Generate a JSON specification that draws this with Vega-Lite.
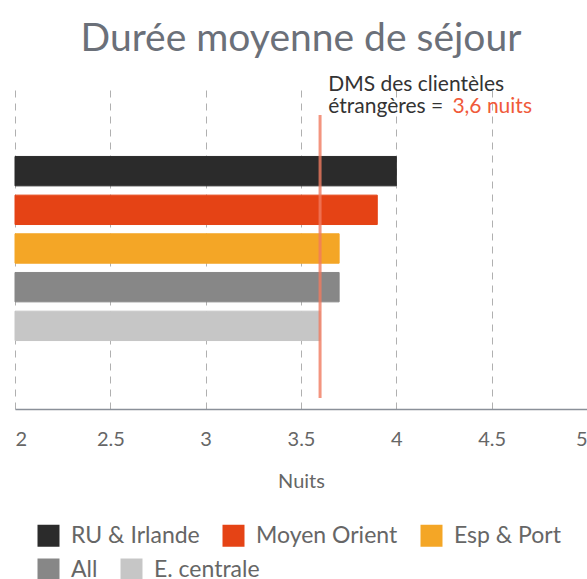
{
  "$schema": "https://vega.github.io/schema/vega-lite/v6.json",
  "width": 572,
  "height": 321,
  "autosize": {"type": "none"},
  "padding": {"left": 15, "top": 88, "right": 0, "bottom": 170},
  "title": {"text": "Durée moyenne de séjour", "fontSize": 39, "font": "Lato", "fontWeight": "normal", "color": "#6b7079", "anchor": "middle", "frame": "group", "offset": 15},
  "config": {"view": {"stroke": null}, "font": "Lato"},
  "layer": [
    {
      "data": {"values": [
        {"region": "RU & Irlande", "dms": 4.0},
        {"region": "Moyen Orient", "dms": 3.9},
        {"region": "Esp & Port", "dms": 3.7},
        {"region": "All", "dms": 3.7},
        {"region": "E. centrale", "dms": 3.6}
      ]},
      "mark": {"type": "bar"},
      "encoding": {
        "y": {"field": "region", "type": "nominal", "sort": null, "axis": null,
          "scale": {"domain": ["_haut", "RU & Irlande", "Moyen Orient", "Esp & Port", "All", "E. centrale", "_bas"], "paddingInner": 0.24, "paddingOuter": 0.77}},
        "x": {"field": "dms", "type": "quantitative", "scale": {"domain": [2, 5], "zero": false},
          "axis": {"values": [2, 2.5, 3, 3.5, 4, 4.5, 5], "format": "~g", "title": "Nuits", "titleFontSize": 20, "titleFontWeight": "normal", "titleColor": "#666", "titlePadding": 22,
            "labelFontSize": 20, "labelColor": "#666", "labelPadding": 20, "labelFlush": true, "ticks": false,
            "grid": true, "gridDash": [7, 6], "gridColor": "#b0b0b0", "gridWidth": 1,
            "domainColor": "#8a9099", "domainWidth": 1.5}},
        "x2": {"datum": 2},
        "fill": {"field": "region", "type": "nominal",
          "scale": {"domain": ["RU & Irlande", "Moyen Orient", "Esp & Port", "All", "E. centrale"], "range": ["#2b2b2b", "#e54315", "#f4a626", "#878787", "#c6c6c6"]},
          "legend": {"title": null, "values": ["RU & Irlande", "Moyen Orient", "Esp & Port"], "orient": "none", "legendX": 22, "legendY": 436, "direction": "horizontal", "columnPadding": 22,
            "symbolType": "square", "symbolSize": 484, "symbolStrokeWidth": 0, "labelFontSize": 23, "labelColor": "#666", "labelOffset": 11, "labelLimit": 300}},
        "stroke": {"field": "region", "type": "nominal",
          "scale": {"domain": ["All", "E. centrale", "RU & Irlande", "Moyen Orient", "Esp & Port"], "range": ["#878787", "#c6c6c6", "#2b2b2b", "#e54315", "#f4a626"]},
          "legend": {"title": null, "values": ["All", "E. centrale"], "orient": "none", "legendX": 22, "legendY": 470, "direction": "horizontal", "columnPadding": 6,
            "symbolType": "square", "symbolSize": 121, "symbolStrokeWidth": 11, "labelFontSize": 23, "labelColor": "#666", "labelOffset": 11, "labelLimit": 300}}
      }
    },
    {
      "data": {"values": [{"x": 3.6, "y0": 0.034, "y1": 0.916}]},
      "mark": {"type": "rule", "color": "#f07b5f", "opacity": 0.8, "strokeWidth": 3},
      "encoding": {
        "x": {"field": "x", "type": "quantitative"},
        "y": {"field": "y0", "type": "quantitative", "scale": {"domain": [0, 1]}, "axis": null},
        "y2": {"field": "y1"}
      }
    },
    {
      "data": {"values": [
        {"x": 3.643, "y": 0.992, "t": "DMS des clientèles", "c": "dark"},
        {"x": 3.643, "y": 0.922, "t": "étrangères =", "c": "dark"},
        {"x": 4.294, "y": 0.922, "t": "3,6 nuits", "c": "red"}
      ]},
      "mark": {"type": "text", "align": "left", "baseline": "alphabetic", "fontSize": 21, "font": "Lato"},
      "encoding": {
        "x": {"field": "x", "type": "quantitative"},
        "y": {"field": "y", "type": "quantitative", "scale": {"domain": [0, 1]}, "axis": null},
        "text": {"field": "t", "type": "nominal"},
        "color": {"field": "c", "type": "nominal", "scale": {"domain": ["dark", "red"], "range": ["#333333", "#f05a3a"]}, "legend": null}
      }
    }
  ],
  "resolve": {"scale": {"y": "independent", "color": "independent"}}
}
